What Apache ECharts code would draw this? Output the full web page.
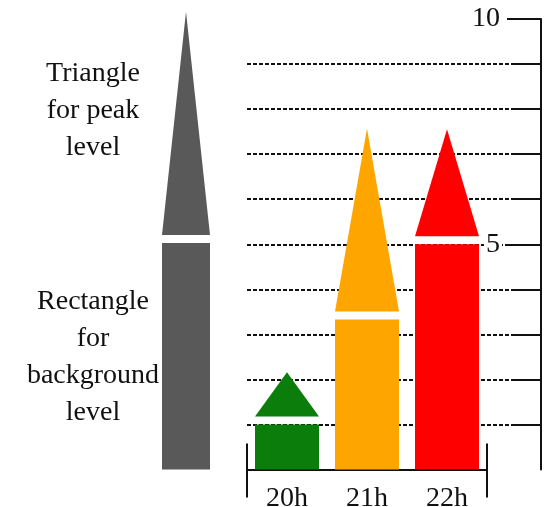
<!DOCTYPE html>
<html>
<head>
<meta charset="utf-8">
<script src="https://cdn.jsdelivr.net/npm/echarts@6/dist/echarts.min.js"></script>
<style>
  html, body { margin: 0; padding: 0; background: #fff; }
  #chart { width: 557px; height: 507px; }
</style>
</head>
<body>
<div id="chart"></div>
<script>
// values
const hours = ["20h", "21h", "22h"];
const backgroundLevel = [1.0, 3.33, 5.0];
const peakLevel = [2.16, 7.57, 7.55];
const barColors = ["#0a7d0a", "#ffa500", "#ff0000"];
const legendBackground = [5.03];
const legendPeak = [10.16];
const yLabels = [5, 10];
const yMinorTicks = [1, 2, 3, 4, 6, 7, 8, 9];

const FONT = "Liberation Serif";
const GAP = 8;
const INK = "#111";

function makeRender(widthFactor, colors) {
  return function (params, api) {
    const i = api.value(0);
    const base = api.coord([i, 0]);
    const top = api.coord([i, api.value(1)]);
    const peak = api.coord([i, api.value(2)]);
    const w = api.size([1, 0])[0] * widthFactor;
    const color = colors[params.dataIndex % colors.length];
    return {
      type: "group",
      children: [
        {
          type: "rect",
          shape: { x: base[0] - w / 2, y: top[1], width: w, height: base[1] - top[1] },
          style: { fill: color },
        },
        {
          type: "polygon",
          shape: {
            points: [
              [base[0] - w / 2, top[1] - GAP],
              [base[0] + w / 2, top[1] - GAP],
              [base[0], peak[1]],
            ],
          },
          style: { fill: color },
        },
      ],
    };
  };
}

const barData = hours.map((h, i) => [i, backgroundLevel[i], peakLevel[i]]);
const legendData = legendBackground.map((b, i) => [i, b, legendPeak[i]]);

const plotRect = { left: 247, right: 70, top: 19, bottom: 37.5, outerBoundsMode: "none" };
const axisRect = { left: 247, right: 16, top: 19, bottom: 37.5, outerBoundsMode: "none" };

const hiddenValueY = (g) => ({ gridIndex: g, type: "value", min: 0, max: 10, show: false });
const hiddenValueX = (g) => ({ gridIndex: g, type: "value", min: 0, max: 3, show: false });

const chart = echarts.init(document.getElementById("chart"), null, { renderer: "canvas" });

chart.setOption({
  animation: false,
  grid: [
    plotRect,                                                                  // 0 bars
    axisRect,                                                                  // 1 axis line + dotted lines
    { left: 162, width: 48, top: 19, bottom: 37.5, outerBoundsMode: "none" },  // 2 legend shape
    axisRect,                                                                  // 3 long ticks + labels 5, 10
    plotRect,                                                                  // 4 end ticks upward
    plotRect,                                                                  // 5 end ticks downward
    axisRect,                                                                  // 6 unit ticks
  ],
  xAxis: [
    {
      gridIndex: 0,
      type: "category",
      data: hours,
      axisLine: { onZero: false, lineStyle: { color: INK, width: 2 } },
      axisTick: { length: 20, lineStyle: { color: INK, width: 2 } },
      axisLabel: { fontFamily: FONT, fontSize: 28, color: INK, margin: 15 },
    },
    hiddenValueX(1),
    { gridIndex: 2, type: "category", data: ["legend"], show: false },
    hiddenValueX(3),
    {
      gridIndex: 4,
      type: "value",
      min: 0,
      max: 3,
      interval: 3,
      axisLine: { show: false, onZero: false },
      axisTick: { show: true, inside: true, length: 26, lineStyle: { color: INK, width: 2 } },
      axisLabel: { show: false },
      splitLine: { show: false },
    },
    {
      gridIndex: 5,
      type: "value",
      min: 0,
      max: 3,
      interval: 3,
      axisLine: { show: false, onZero: false },
      axisTick: { show: true, length: 28, lineStyle: { color: INK, width: 2 } },
      axisLabel: { show: false },
      splitLine: { show: false },
    },
    hiddenValueX(6),
  ],
  yAxis: [
    hiddenValueY(0),
    {
      gridIndex: 1,
      type: "value",
      position: "right",
      min: 0,
      max: 10,
      interval: 1,
      axisLine: { show: true, onZero: false, lineStyle: { color: INK, width: 2 } },
      axisTick: { show: false },
      axisLabel: { show: false },
      splitLine: {
        show: true,
        showMinLine: false,
        showMaxLine: false,
        lineStyle: { color: INK, width: 2, type: [4, 2] },
      },
    },
    hiddenValueY(2),
    {
      gridIndex: 3,
      type: "value",
      position: "right",
      min: 0,
      max: 10,
      interval: 5,
      axisLine: { show: false, onZero: false },
      axisTick: {
        show: true,
        inside: true,
        length: 34,
        customValues: yLabels,
        lineStyle: { color: INK, width: 2 },
      },
      axisLabel: {
        inside: true,
        margin: 39,
        fontFamily: FONT,
        fontSize: 28,
        color: INK,
        backgroundColor: "#fff",
        padding: [0, 2],
        customValues: yLabels,
      },
      splitLine: { show: false },
    },
    hiddenValueY(4),
    hiddenValueY(5),
    {
      gridIndex: 6,
      type: "value",
      position: "right",
      min: 0,
      max: 10,
      interval: 1,
      axisLine: { show: false, onZero: false },
      axisTick: {
        show: true,
        inside: true,
        length: 26,
        customValues: yMinorTicks,
        lineStyle: { color: INK, width: 2 },
      },
      axisLabel: { show: false },
      splitLine: { show: false },
    },
  ],
  series: [
    {
      type: "custom",
      xAxisIndex: 0,
      yAxisIndex: 0,
      renderItem: makeRender(0.8, barColors),
      data: barData,
      z: 3,
    },
    {
      type: "custom",
      xAxisIndex: 2,
      yAxisIndex: 2,
      renderItem: makeRender(1, ["#595959"]),
      data: legendData,
      z: 3,
    },
  ],
  graphic: [
    {
      type: "text",
      x: 93,
      y: 55,
      style: {
        text: "Triangle\nfor peak\nlevel",
        font: '28px "Liberation Serif"',
        textAlign: "center",
        lineHeight: 37,
        fill: INK,
      },
    },
    {
      type: "text",
      x: 93,
      y: 283,
      style: {
        text: "Rectangle\nfor\nbackground\nlevel",
        font: '28px "Liberation Serif"',
        textAlign: "center",
        lineHeight: 37,
        fill: INK,
      },
    },
  ],
});
</script>
</body>
</html>
